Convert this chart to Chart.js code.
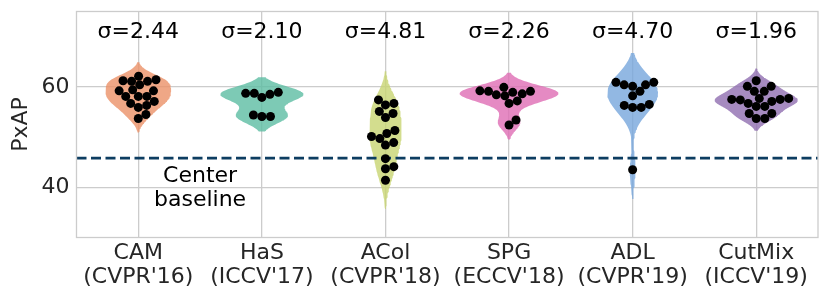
<!DOCTYPE html>
<html>
<head>
<meta charset="utf-8">
<script src="https://cdn.jsdelivr.net/npm/chart.js@4.4.1/dist/chart.umd.min.js"></script>
<style>
  body { margin: 0; background: #fff; }
  #wrap { width: 830px; height: 304px; }
</style>
</head>
<body>
<div id="wrap"><canvas id="chart" width="830" height="304"></canvas></div>
<script>
// method names + venues (two-line tick labels)
const methods = ["CAM", "HaS", "ACol", "SPG", "ADL", "CutMix"];
const venues = ["(CVPR'16)", "(ICCV'17)", "(CVPR'18)", "(ECCV'18)", "(CVPR'19)", "(ICCV'19)"];
const sigmas = ["2.44", "2.10", "4.81", "2.26", "4.70", "1.96"];

// PxAP of each run
const camScores = [62.1, 61.4, 61.2, 61.1, 61.1, 60.4, 59.4, 59.2, 59.2, 58.1, 58.1, 58.1, 57.1, 56.7, 56.3, 55.9, 54.5, 53.7];
const hasScores = [58.9, 58.7, 58.7, 58.5, 57.9, 54.4, 54.1, 54.1];
const acolScores = [57.4, 56.7, 56.4, 55.1, 54.7, 53.9, 51.3, 50.7, 50.1, 49.7, 48.9, 48.4, 45.7, 44.1, 43.7, 41.4];
const spgScores = [59.9, 59.2, 59.1, 59.1, 58.9, 58.6, 58.4, 58.2, 57.2, 56.7, 53.4, 52.4];
const adlScores = [60.9, 60.9, 60.4, 60.4, 60.1, 59.1, 58.2, 56.5, 56.3, 55.9, 55.9, 43.5];
const cutmixScores = [61.2, 60.1, 60.1, 59.1, 59.1, 57.7, 57.7, 57.5, 57.5, 57.4, 57.1, 56.7, 56.1, 56.1, 54.7, 54.7, 53.7, 53.7];

const centerBaseline = 45.8;
const yTicks = [40, 60];

const allScores = [camScores, hasScores, acolScores, spgScores, adlScores, cutmixScores];
const colors = [
  "rgba(235,145,104,0.8)",
  "rgba(92,189,162,0.8)",
  "rgba(200,212,114,0.8)",
  "rgba(222,109,180,0.8)",
  "rgba(119,166,220,0.8)",
  "rgba(144,110,176,0.8)",
];

// gaussian kde, scott bandwidth, cut=2 (like seaborn)
function kde(vals) {
  const n = vals.length;
  const mean = vals.reduce((a, b) => a + b, 0) / n;
  const sd = Math.sqrt(vals.reduce((s, v) => s + (v - mean) ** 2, 0) / (n - 1));
  const bw = Math.pow(n, -0.2) * sd;
  const lo = Math.min(...vals) - 2 * bw;
  const hi = Math.max(...vals) + 2 * bw;
  const grid = [];
  for (let i = 0; i < 100; i++) grid.push(lo + (hi - lo) * i / 99);
  const dens = grid.map(y =>
    vals.reduce((s, v) => s + Math.exp(-0.5 * ((y - v) / bw) ** 2), 0) / (n * bw * Math.sqrt(2 * Math.PI)));
  return { grid, dens };
}

const kdes = allScores.map(kde);
const maxDens = Math.max(...kdes.map(k => Math.max(...k.dens)));

function violinOutline(k, i) {
  const pts = [];
  k.grid.forEach((y, j) => pts.push({ x: i + 0.4 * k.dens[j] / maxDens, y }));
  for (let j = k.grid.length - 1; j >= 0; j--) pts.push({ x: i - 0.4 * k.dens[j] / maxDens, y: k.grid[j] });
  return pts;
}

// beeswarm offsets (approx. pixels per unit of the plot)
const X_PX = 123.6, Y_PX = 5.02, DOT = 8.6;
function swarm(vals) {
  const order = vals.map((v, i) => i).sort((a, b) => vals[a] - vals[b]);
  const placed = [];
  const out = new Array(vals.length);
  order.forEach(i => {
    const y = vals[i] * Y_PX;
    const near = placed.filter(p => Math.abs(p.y - y) < DOT);
    const cands = [0];
    near.forEach(p => {
      const dx = Math.sqrt(DOT * DOT - (p.y - y) ** 2);
      cands.push(p.x + dx, p.x - dx);
    });
    cands.sort((a, b) => Math.abs(a) - Math.abs(b));
    const x = cands.find(c => near.every(p => Math.hypot(p.x - c, p.y - y) >= DOT - 1e-6));
    placed.push({ x, y });
    out[i] = x / X_PX;
  });
  return out;
}

const datasets = [];
allScores.forEach((vals, i) => {
  datasets.push({
    type: "line",
    data: violinOutline(kdes[i], i),
    backgroundColor: colors[i],
    borderWidth: 0,
    pointRadius: 0,
    fill: "shape",
    tension: 0,
    order: 3,
  });
});
datasets.push({
  type: "line",
  data: [{ x: -0.5, y: centerBaseline }, { x: 5.5, y: centerBaseline }],
  borderColor: "#0d3d61",
  borderWidth: 2.7,
  borderDash: [10, 4.5],
  pointRadius: 0,
  fill: false,
  order: 2,
});
allScores.forEach((vals, i) => {
  const offs = swarm(vals);
  datasets.push({
    type: "scatter",
    data: vals.map((v, j) => ({ x: i + offs[j], y: v })),
    backgroundColor: "#000",
    borderWidth: 0,
    pointRadius: 4.5,
    order: 1,
  });
});

const textColor = "#262626";
const fontFamily = "'DejaVu Sans', sans-serif";

const overlay = {
  id: "overlay",
  afterDatasetsDraw(chart) {
    const { ctx, chartArea, scales } = chart;
    ctx.save();
    ctx.strokeStyle = "#cccccc";
    ctx.lineWidth = 1.3;
    ctx.strokeRect(chartArea.left, chartArea.top, chartArea.right - chartArea.left, chartArea.bottom - chartArea.top);

    ctx.fillStyle = "#000";
    ctx.font = "22px " + fontFamily;
    ctx.textAlign = "center";
    ctx.textBaseline = "middle";
    sigmas.forEach((s, i) => {
      ctx.fillText("σ=" + s, scales.x.getPixelForValue(i), chartArea.top + 20.5);
    });

    const by = scales.y.getPixelForValue(centerBaseline);
    const bx = scales.x.getPixelForValue(0.5);
    ctx.fillText("Center", bx, by + 18);
    ctx.fillText("baseline", bx, by + 42);
    ctx.restore();
  },
};

new Chart(document.getElementById("chart"), {
  type: "scatter",
  data: { datasets },
  options: {
    responsive: false,
    animation: false,
    layout: { padding: { top: 11.5, right: 12, left: 0, bottom: 0 } },
    plugins: { legend: { display: false }, tooltip: { enabled: false } },
    scales: {
      x: {
        type: "linear",
        min: -0.5,
        max: 5.5,
        afterBuildTicks: axis => { axis.ticks = methods.map((m, i) => ({ value: i })); },
        afterFit: axis => { axis.height = 66.5; axis.paddingLeft = 0; axis.paddingRight = 0; },
        ticks: {
          callback: v => [methods[v], venues[v]],
          color: textColor,
          font: { family: fontFamily, size: 22, lineHeight: 1.08 },
          padding: 4,
          maxRotation: 0,
          autoSkip: false,
        },
        grid: { color: "#cccccc", lineWidth: 1.3, drawTicks: false },
        border: { display: false },
      },
      y: {
        min: 30,
        max: 75,
        afterBuildTicks: axis => { axis.ticks = yTicks.map(v => ({ value: v })); },
        afterFit: axis => { axis.width = 76.5; axis.paddingTop = 0; axis.paddingBottom = 0; },
        ticks: {
          color: textColor,
          font: { family: fontFamily, size: 22 },
          padding: 7,
        },
        grid: { color: "#cccccc", lineWidth: 1.3, drawTicks: false },
        border: { display: false },
        title: {
          display: true,
          text: "PxAP",
          color: textColor,
          font: { family: fontFamily, size: 22 },
          padding: { top: 8, bottom: 0 },
        },
      },
    },
  },
  plugins: [overlay],
});
</script>
</body>
</html>
